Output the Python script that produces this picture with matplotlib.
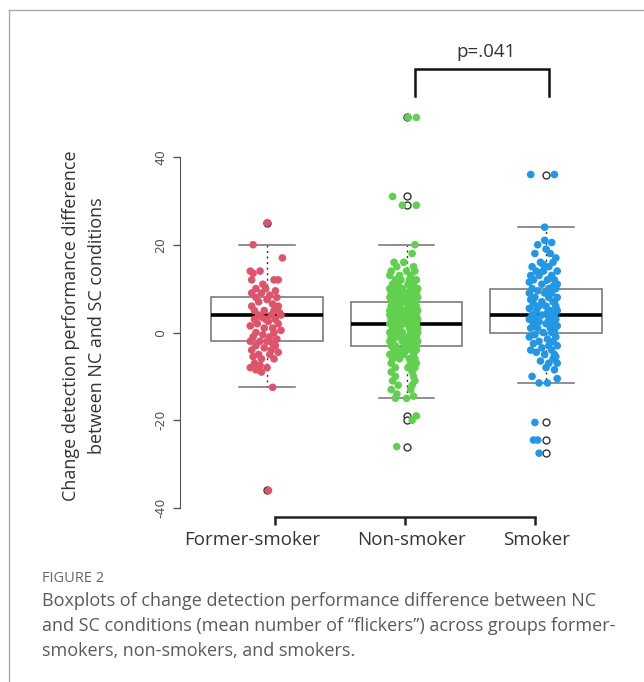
import matplotlib
matplotlib.use('Agg')
import matplotlib.pyplot as plt
from matplotlib.lines import Line2D

# Groups and colours (R 4 palette)
groups = ['Former-smoker', 'Non-smoker', 'Smoker']
colors = ['#DF536B', '#61D04F', '#2297E6']

# Box statistics
q1 = [-2, -3, 0]
med = [4, 2, 4]
q3 = [8, 7, 10]
whislo = [-12.5, -15, -11.5]
whishi = [20, 20, 24]
fliers = [[25, -36], [49, 31, 29, -19, -20, -26], [36, -20.5, -24.5, -27.5]]

# Jittered points: values and horizontal jitter (x units)
former_vals = [25, 20, 17, 14, 14, 13.5, 12, 12, 12, 11,
               10, 10, 9.5, 9, 9, 8.5, 8, 8, 7.5, 7,
               6.5, 6, 6, 5, 5, 5, 4.5, 4, 4, 4,
               3.5, 3, 3, 2.5, 2, 2, 1.5, 1, 1, 0.5,
               0, 0, -0.5, -1, -1, -1.5, -2, -2, -2.5, -3,
               -3, -3.5, -4, -4, -4.5, -5, -5, -5.5, -6, -6,
               -7, -7.5, -8, -8, -8.5, -9, -12.5, -36, 3, -2]
former_off = [0.0, -0.10, 0.11, -0.12, -0.05, -0.10, -0.11, 0.08, 0.05, -0.03,
              -0.01, -0.08, 0.06, -0.11, -0.04, 0.02, -0.08, 0.07, 0.00, -0.06,
              0.04, -0.11, 0.08, -0.02, 0.05, -0.09, 0.09, -0.06, 0.03, 0.10,
              -0.04, -0.09, 0.06, 0.01, -0.07, 0.08, -0.12, -0.02, 0.04, 0.10,
              -0.08, 0.05, -0.03, -0.10, 0.02, 0.07, -0.12, -0.05, 0.04, -0.08,
              0.06, -0.02, -0.11, 0.03, 0.08, -0.06, 0.02, -0.10, 0.05, -0.04,
              -0.09, -0.05, -0.12, 0.00, -0.08, -0.04, 0.04, 0.01, -0.01, 0.00]

non_vals = [49, 49, 31, 29, 29, 20, 18, 16, 16, 15,
            15, 14, 14, 14, 13, 13, 13, 12, 12, 12,
            12, 11, 11, 11, 11, 10, 10, 10, 10, 10,
            9, 9, 9, 9, 9, 8, 8, 8, 8, 8,
            8, 7, 7, 7, 7, 7, 7, 6, 6, 6,
            6, 6, 6, 5, 5, 5, 5, 5, 5, 5,
            4, 4, 4, 4, 4, 4, 4, 3, 3, 3,
            3, 3, 3, 3, 2, 2, 2, 2, 2, 2,
            2, 1, 1, 1, 1, 1, 1, 0, 0, 0,
            0, 0, 0, -1, -1, -1, -1, -1, -1, -2,
            -2, -2, -2, -2, -2, -3, -3, -3, -3, -3,
            -4, -4, -4, -4, -4, -5, -5, -5, -5, -6,
            -6, -6, -6, -7, -7, -7, -8, -8, -8, -9,
            -9, -10, -10, -11, -11, -12, -12, -13, -13, -14,
            -14.5, -15, -15, -19, -20, -26, 0.5, 3.5, -2.5, 6.5]
non_off = [0.01, 0.07, -0.10, -0.03, 0.07, 0.06, 0.04, -0.09, -0.02, 0.05,
           -0.07, -0.11, 0.00, 0.06, -0.05, 0.03, -0.12, -0.08, 0.02, 0.07,
           -0.04, -0.10, 0.01, 0.05, -0.06, -0.12, -0.03, 0.03, 0.08, -0.08,
           -0.11, -0.01, 0.04, 0.07, -0.06, -0.09, 0.00, 0.05, -0.04, 0.08,
           -0.12, -0.07, -0.02, 0.02, 0.06, -0.10, 0.04, -0.05, 0.01, 0.07,
           -0.11, -0.08, 0.03, -0.12, -0.04, 0.00, 0.05, 0.08, -0.07, -0.02,
           -0.10, -0.05, 0.02, 0.06, -0.12, 0.07, -0.01, -0.08, 0.03, 0.05,
           -0.11, -0.04, 0.00, 0.08, -0.09, -0.06, 0.01, 0.04, 0.07, -0.12,
           -0.02, -0.10, -0.05, 0.02, 0.06, 0.08, -0.07, -0.12, -0.03, 0.03,
           0.06, -0.09, 0.08, -0.11, -0.04, 0.01, 0.05, -0.07, 0.07, -0.10,
           -0.03, 0.02, 0.06, -0.12, 0.08, -0.08, -0.01, 0.03, 0.07, -0.11,
           -0.05, 0.00, 0.04, -0.09, 0.07, -0.12, -0.02, 0.05, -0.07, -0.10,
           0.02, 0.06, -0.05, -0.11, 0.03, 0.07, -0.08, 0.01, 0.06, -0.11,
           0.04, -0.08, 0.05, -0.10, 0.06, -0.06, 0.04, -0.11, 0.03, -0.07,
           0.05, -0.08, 0.00, 0.07, 0.04, -0.07, -0.06, -0.04, 0.05, 0.02]

smoker_vals = [36, 36, 24, 21, 20.5, 20, 19, 18, 18, 17,
               16, 16, 15, 15, 14, 14, 14, 13, 13, 13,
               12, 12, 12, 11.5, 11, 11, 10.5, 10, 10, 10,
               9.5, 9, 9, 9, 8, 8, 8, 7.5, 7, 7,
               7, 6.5, 6, 6, 6, 5.5, 5, 5, 5, 4.5,
               4, 4, 4, 4, 3.5, 3, 3, 3, 2.5, 2,
               2, 2, 1.5, 1, 1, 1, 0.5, 0, 0, -0.5,
               -1, -1, -1.5, -2, -2, -2.5, -3, -3, -3.5, -4,
               -4, -4.5, -5, -5, -5.5, -6, -6.5, -7, -7, -8,
               -8.5, -10, -10.5, -11.5, -11.5, -20.5, -24.5, -24.5, -27.5, 15.5]
smoker_off = [-0.11, 0.06, -0.01, -0.01, 0.04, -0.06, 0.00, 0.03, -0.08, 0.07,
              -0.04, 0.05, -0.10, 0.02, -0.07, 0.08, -0.02, -0.11, 0.04, -0.05,
              0.06, -0.09, 0.01, -0.12, 0.08, -0.03, 0.05, -0.10, 0.02, 0.07,
              -0.06, -0.12, 0.04, -0.01, 0.08, -0.08, 0.02, -0.11, 0.06, -0.03,
              0.05, -0.09, 0.00, 0.07, -0.05, -0.12, 0.03, 0.08, -0.07, 0.01,
              -0.10, 0.06, -0.03, 0.04, -0.08, 0.07, -0.12, 0.02, -0.05, 0.05,
              -0.09, 0.00, 0.08, -0.06, 0.03, -0.11, 0.06, -0.02, 0.04, -0.08,
              0.07, -0.12, 0.01, -0.05, 0.05, -0.09, 0.02, 0.08, -0.03, -0.11,
              0.04, -0.07, 0.06, -0.01, 0.07, 0.05, -0.04, 0.02, 0.08, 0.00,
              0.06, -0.10, 0.08, -0.05, 0.01, -0.08, -0.09, -0.06, -0.05, -0.02]

point_vals = [former_vals, non_vals, smoker_vals]
point_offs = [former_off, non_off, smoker_off]

yticks = [-40, -20, 0, 20, 40]
# the group axis was redrawn slightly off the box centres in the original
xtick_pos = [1.057, 1.989, 2.921]
xlabel_pos = [0.892, 2.032, 2.935]
p_text = 'p=.041'

fig = plt.figure(figsize=(6.44, 6.82), dpi=100)
ax = fig.add_axes([0.2795, 0.2422, 0.6646, 0.5984])

stats = []
for i in range(3):
    stats.append(dict(med=med[i], q1=q1[i], q3=q3[i], whislo=whislo[i],
                      whishi=whishi[i], fliers=fliers[i], label=groups[i]))

ax.bxp(stats, positions=[1, 2, 3], widths=0.8, capwidths=0.4, patch_artist=True,
       boxprops=dict(facecolor='white', edgecolor='#707070', linewidth=1.1),
       medianprops=dict(color='black', linewidth=2.6),
       whiskerprops=dict(color='#333333', linewidth=1, linestyle=(0, (1.5, 2.5))),
       capprops=dict(color='#707070', linewidth=1.1),
       flierprops=dict(marker='o', markersize=5, markerfacecolor='white',
                       markeredgecolor='#333333', markeredgewidth=1))

for i in range(3):
    xs = [i + 1 + o for o in point_offs[i]]
    ax.scatter(xs, point_vals[i], s=30, color=colors[i], edgecolors='none', zorder=4)

ax.set_xlim(0.376, 3.444)
ax.set_ylim(-42, 51)

for s in ['top', 'right']:
    ax.spines[s].set_visible(False)
ax.spines['left'].set_bounds(-40, 40)
ax.spines['bottom'].set_bounds(xtick_pos[0], xtick_pos[-1])
ax.spines['left'].set_color('#555555')
ax.spines['bottom'].set_color('#222222')
ax.spines['bottom'].set_linewidth(1.8)

ax.set_yticks(yticks)
ax.set_yticklabels([str(v) for v in yticks])
ax.tick_params(axis='y', length=5, width=1, color='#555555', labelrotation=90,
               labelsize=9, labelcolor='#555555', pad=4)
for lab in ax.get_yticklabels():
    lab.set_va('center')

ax.set_xticks(xtick_pos)
ax.set_xticklabels([])
ax.set_xticks(xlabel_pos, minor=True)
ax.set_xticklabels(groups, minor=True, fontfamily='Open Sans', fontsize=13.5,
                   color='#333333')
ax.tick_params(axis='x', which='major', length=6, width=1.8, color='#222222')
ax.tick_params(axis='x', which='minor', length=0, pad=10)

# significance bracket
ax.plot([2.06, 2.06, 3.02, 3.02], [54, 60, 60, 54], color='#111111', lw=1.8,
        clip_on=False, solid_joinstyle='miter')
ax.text(2.57, 61.8, p_text, ha='center', va='bottom', fontsize=13.5,
        fontfamily='Open Sans', color='#333333')

fig.text(84 / 644, 1 - 326 / 682,
         'Change detection performance difference\nbetween NC and SC conditions',
         rotation=90, ha='center', va='center', multialignment='center',
         fontsize=13, fontfamily='Open Sans', color='#333333', linespacing=1.6)

# frame of the figure panel
fig.add_artist(Line2D([9 / 644, 9 / 644], [0, 1 - 10 / 682], color='#aaaaaa', lw=1))
fig.add_artist(Line2D([9 / 644, 1], [1 - 10 / 682, 1 - 10 / 682], color='#aaaaaa', lw=1))

fig.text(42 / 644, 1 - 578 / 682, 'FIGURE 2', fontsize=10.5, fontfamily='Open Sans',
         color='#666666', va='center')
caption = ('Boxplots of change detection performance difference between NC\n'
           'and SC conditions (mean number of \u201cflickers\u201d) across groups former-\n'
           'smokers, non-smokers, and smokers.')
fig.text(42 / 644, 1 - 592 / 682, caption, fontsize=13, fontfamily='Open Sans',
         color='#5a5a5a', va='top', linespacing=1.5)

fig.savefig('out.png', dpi=100)
